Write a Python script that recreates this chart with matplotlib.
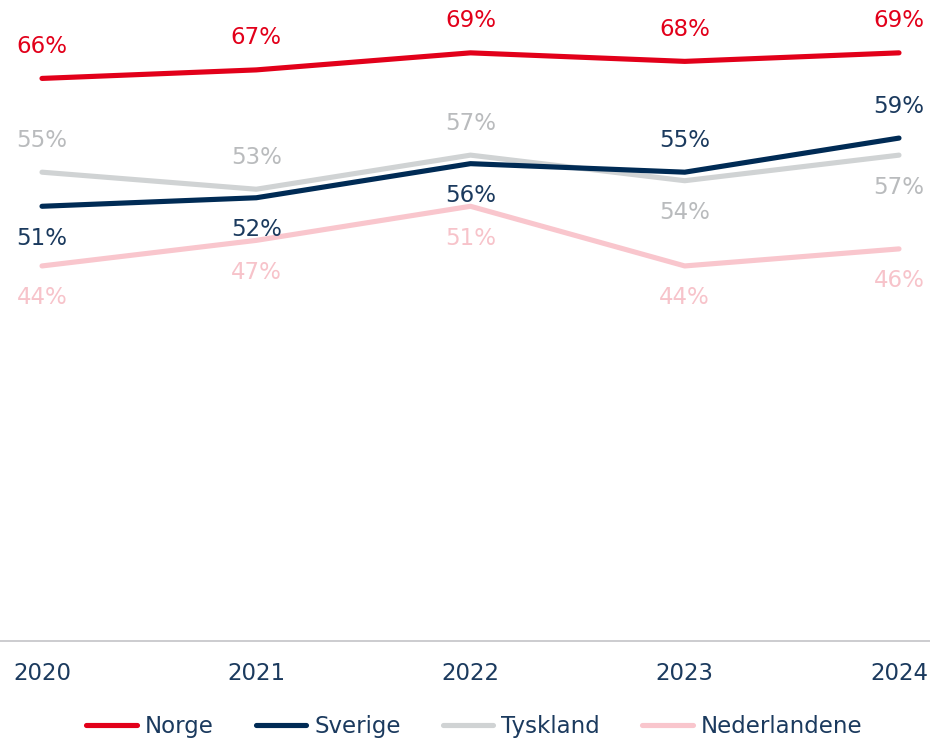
import matplotlib
matplotlib.use("Agg")
import matplotlib.pyplot as plt

years = [2020, 2021, 2022, 2023, 2024]
series_names = ["Norge", "Sverige", "Tyskland", "Nederlandene"]
norge = [66, 67, 69, 68, 69]
sverige = [51, 52, 56, 55, 59]
tyskland = [55, 53, 57, 54, 57]
nederlandene = [44, 47, 51, 44, 46]

values = [norge, sverige, tyskland, nederlandene]
line_colors = ["#E2001A", "#002B55", "#D0D3D4", "#F9C6CD"]
label_colors = ["#E2001A", "#1B3A5E", "#B9BBBD", "#F7C3CA"]
# label position: +1 above, -1 below
label_pos = [
    [1, 1, 1, 1, 1],
    [-1, -1, -1, 1, 1],
    [1, 1, 1, -1, -1],
    [-1, -1, -1, -1, -1],
]

plt.rcParams['font.family'] = ['DejaVu Sans']
W, H = 930, 738
fig = plt.figure(figsize=(W / 100, H / 100), dpi=100)
ax = fig.add_axes([0, 1 - 641 / H, 1, 641 / H])

pxyr = (899 - 42) / 4
ax.set_xlim(2020 - 42 / pxyr, 2024 + 31 / pxyr)
ax.set_ylim(0, 75.2)

for i in [3, 2, 1, 0]:
    ax.plot(years, values[i], color=line_colors[i], lw=3.7, solid_capstyle='round',
            label=series_names[i], zorder=3)

for i in range(4):
    for x, v, p in zip(years, values[i], label_pos[i]):
        ax.annotate(f"{v}%", (x, v), xytext=(0, 32 * p), textcoords='offset pixels',
                    ha='center', va='center', fontsize=16.5, color=label_colors[i])

for s in ['top', 'right', 'left']:
    ax.spines[s].set_visible(False)
ax.spines['bottom'].set_color('#C8C8CC')
ax.spines['bottom'].set_linewidth(1.3)
ax.set_yticks([])
ax.set_xticks(years)
ax.set_xticklabels([str(y) for y in years])
ax.tick_params(axis='x', length=0, pad=15, labelsize=16.5, labelcolor='#1B3A5E')

handles, labels = ax.get_legend_handles_labels()
order = [labels.index(n) for n in series_names]
leg = fig.legend([handles[k] for k in order], [labels[k] for k in order],
                 loc='center', bbox_to_anchor=(0.51, 0.015), ncol=4, frameon=False,
                 fontsize=16.5, handlelength=2.2, handletextpad=0.34, columnspacing=1.85)
for t in leg.get_texts():
    t.set_color('#1B3A5E')

fig.savefig("out.png", dpi=100)
